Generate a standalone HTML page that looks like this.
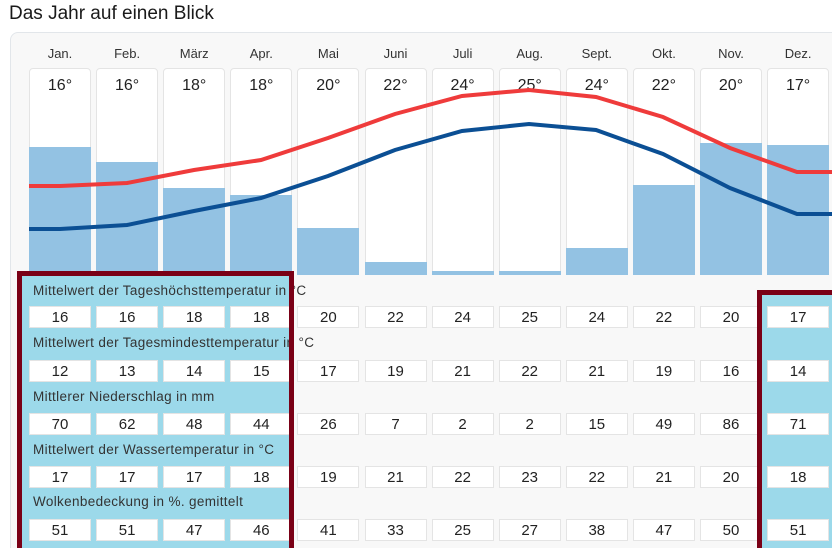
<!DOCTYPE html>
<html><head><meta charset="utf-8"><style>
*{margin:0;padding:0;box-sizing:border-box}
html,body{width:832px;height:548px;overflow:hidden}
body{background:#fff;font-family:"Liberation Sans",sans-serif;color:#222;position:relative}
.a{position:absolute}
.h{left:9px;top:3px;font-size:19px;color:#1a1a1a}
.panel{left:10px;top:32px;width:840px;height:530px;background:#f8f8f8;border:1px solid #e2e6ea;border-radius:8px}
.m{font-size:13px;color:#333;text-align:center;width:62px;top:46px}
.col{top:68px;width:62px;height:207px;background:#fff;border:1px solid #e4e4e4;border-radius:4px 4px 0 0}
.t{font-size:16px;text-align:center;width:62px;top:77px;color:#222}
.bar{width:62px;background:#93c2e3}
.hb{background:#9cd9ea}
.hl{border:5px solid #7a0016}
.lab{font-size:13.5px;letter-spacing:0.35px;color:#333;left:33px;white-space:nowrap}
.v{width:62px;height:22px;background:#fff;border:1px solid #e4e4e4;text-align:center;font-size:15px;line-height:21px;color:#222}
</style></head><body>
<div class="a h">Das Jahr auf einen Blick</div>
<div class="a panel"></div>
<div id="g"></div>
<div class="a hb" style="left:17px;top:271px;width:277px;height:290px"></div>
<div class="a hb" style="left:757px;top:290px;width:90px;height:270px"></div>
<svg class="a" style="left:0;top:0" width="832" height="548">
<polyline fill="none" stroke="#ef3b3b" stroke-width="4" points="29,186 60,186 127,183 194,170 261,160 328,138 395,114 462,96 529,90 596,97 663,117 730,148 797,172 832,172"/>
<polyline fill="none" stroke="#0b4f94" stroke-width="4" points="29,229 60,229 127,225 194,211 261,198 328,176 395,150 462,131 529,124 596,130 663,154 730,188 797,214 832,214"/>
</svg>
<div id="t"></div>
<div class="a hl" style="left:17px;top:271px;width:277px;height:290px"></div>
<div class="a hl" style="left:757px;top:290px;width:90px;height:270px"></div>
<script>
var M=["Jan.","Feb.","März","Apr.","Mai","Juni","Juli","Aug.","Sept.","Okt.","Nov.","Dez."];
var T=[16,16,18,18,20,22,24,25,24,22,20,17];
var B=[147,162,188,195,228,262,271,271,248,185,143,145];
var R=[[16,16,18,18,20,22,24,25,24,22,20,17],[12,13,14,15,17,19,21,22,21,19,16,14],[70,62,48,44,26,7,2,2,15,49,86,71],[17,17,17,18,19,21,22,23,22,21,20,18],[51,51,47,46,41,33,25,27,38,47,50,51]];
var L=["Mittelwert der Tageshöchsttemperatur in °C","Mittelwert der Tagesmindesttemperatur in °C","Mittlerer Niederschlag in mm","Mittelwert der Wassertemperatur in °C","Wolkenbedeckung in %. gemittelt"];
var LY=[283,335,389,442,494],VY=[306,360,413,466,519];
var g="",t="";
for(var i=0;i<12;i++){var x=29+i*67.1;
g+='<div class="a m" style="left:'+x+'px">'+M[i]+'</div><div class="a col" style="left:'+x+'px"></div><div class="a bar" style="left:'+x+'px;top:'+B[i]+'px;height:'+(275-B[i])+'px"></div><div class="a t" style="left:'+x+'px">'+T[i]+'°</div>';}
for(var r=0;r<5;r++){t+='<div class="a lab" style="top:'+LY[r]+'px">'+L[r]+'</div>';
for(var i=0;i<12;i++){var x=29+i*67.1;t+='<div class="a v" style="left:'+x+'px;top:'+VY[r]+'px">'+R[r][i]+'</div>';}}
document.getElementById("g").innerHTML=g;document.getElementById("t").innerHTML=t;
</script>
</body></html>
